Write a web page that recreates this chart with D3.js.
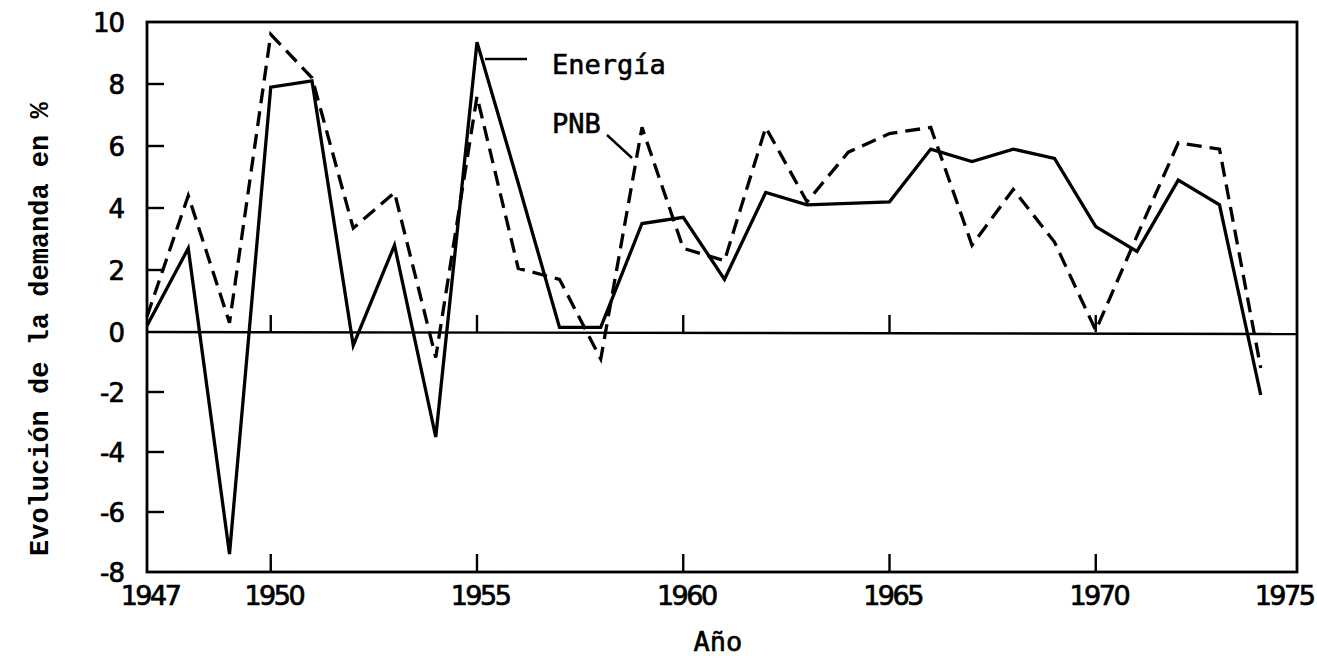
<!DOCTYPE html>
<html><head><meta charset="utf-8">
<script src="https://cdn.jsdelivr.net/npm/d3@7"></script>
<style>body{margin:0;background:#fff}</style>
</head><body>
<svg id="c" width="1317" height="659"></svg>
<script>
const years = [1947,1948,1949,1950,1951,1952,1953,1954,1955,1956,1957,1958,1959,1960,
               1961,1962,1963,1964,1965,1966,1967,1968,1969,1970,1971,1972,1973,1974];
const energia = [0.2, 2.7, -7.4, 7.9, 8.1, -0.45, 2.8, -3.5, 9.35, 4.8, 0.15, 0.15, 3.5, 3.7,
                 1.7, 4.5, 4.1, 4.15, 4.2, 5.9, 5.5, 5.9, 5.6, 3.4, 2.6, 4.9, 4.1, -2.1];
const pnb = [0.5, 4.4, 0.3, 9.6, 8.2, 3.35, 4.5, -0.85, 7.6, 2.05, 1.7, -0.9, 6.6, 2.7,
             2.3, 6.6, 4.2, 5.8, 6.4, 6.6, 2.8, 4.6, 2.9, 0.05, 3.1, 6.1, 5.9, -1.2];
const yTicks = [10, 8, 6, 4, 2, 0, -2, -4, -6, -8];
const xTicks = [1947, 1950, 1955, 1960, 1965, 1970, 1975];
const seriesNames = ["Energía", "PNB"];
const yTitle = "Evolución de la demanda en %";
const xTitle = "Año";

(function () {
const svg = d3.select("#c");
const x = d3.scaleLinear().domain([1947, 1975]).range([147, 1302]);
const y = d3.scaleLinear().domain([-8, 0, 10]).range([572, 332, 22]);
const fL = x(1947), fR = 1297, fT = y(10), fB = y(-8);

// frame
svg.append("rect").attr("x", fL).attr("y", fT).attr("width", fR - fL).attr("height", fB - fT)
  .attr("fill", "none").attr("stroke", "#000").attr("stroke-width", 2.8);

// zero line
svg.append("line").attr("x1", fL).attr("x2", fR).attr("y1", y(0)).attr("y2", y(0) + 2)
  .attr("stroke", "#000").attr("stroke-width", 2.4);

// y ticks (inward)
svg.append("g").selectAll("line").data(yTicks.filter(d => d !== 0 && d !== 10 && d !== -8)).join("line")
  .attr("x1", fL).attr("x2", fL + 17).attr("y1", d => y(d)).attr("y2", d => y(d))
  .attr("stroke", "#000").attr("stroke-width", 2.4);

// x ticks on zero line and bottom
const inner = xTicks.filter(d => d !== 1947 && d !== 1975);
svg.append("g").selectAll("line").data(inner).join("line")
  .attr("x1", d => x(d)).attr("x2", d => x(d)).attr("y1", y(0)).attr("y2", y(0) - 17)
  .attr("stroke", "#000").attr("stroke-width", 2.4);
svg.append("g").selectAll("line").data(inner).join("line")
  .attr("x1", d => x(d)).attr("x2", d => x(d)).attr("y1", fB).attr("y2", fB - 18)
  .attr("stroke", "#000").attr("stroke-width", 2.4);

// y tick labels
svg.append("g").selectAll("text").data(yTicks).join("text")
  .attr("x", 124).attr("y", d => y(d) + 10)
  .attr("text-anchor", "end")
  .attr("font-family", "DejaVu Sans").attr("font-size", 26)
  .attr("stroke", "#000").attr("stroke-width", 0.7)
  .attr("letter-spacing", -1)
  .text(d => d);

// x tick labels
svg.append("g").selectAll("text").data(xTicks).join("text")
  .attr("x", d => Math.min(x(d) + 3, 1284)).attr("y", 605)
  .attr("text-anchor", "middle")
  .attr("font-family", "DejaVu Sans").attr("font-size", 27)
  .attr("stroke", "#000").attr("stroke-width", 0.7)
  .attr("letter-spacing", -2.5)
  .text(d => d);

// lines
const line = d3.line().x((d, i) => x(years[i])).y(d => y(d));
svg.append("path").datum(pnb).attr("d", line).attr("fill", "none")
  .attr("stroke", "#000").attr("stroke-width", 3.3).attr("stroke-dasharray", "15,8")
  .attr("stroke-linejoin", "miter");
svg.append("path").datum(energia).attr("d", line).attr("fill", "none")
  .attr("stroke", "#000").attr("stroke-width", 3.3).attr("stroke-linejoin", "miter");

// series labels
const mono = "DejaVu Sans Mono";
svg.append("text").attr("x", 552).attr("y", 74).attr("font-family", mono).attr("font-size", 27)
  .attr("stroke", "#000").attr("stroke-width", 0.6).text(seriesNames[0]);
svg.append("line").attr("x1", 485).attr("x2", 527).attr("y1", 59).attr("y2", 59).attr("stroke", "#000").attr("stroke-width", 2.4);
svg.append("text").attr("x", 552).attr("y", 133).attr("font-family", mono).attr("font-size", 27)
  .attr("stroke", "#000").attr("stroke-width", 0.6).text(seriesNames[1]);
svg.append("line").attr("x1", 607).attr("x2", 632).attr("y1", 135).attr("y2", 158).attr("stroke", "#000").attr("stroke-width", 2.4);

// axis titles
svg.append("text").attr("x", 718).attr("y", 651).attr("text-anchor", "middle")
  .attr("font-family", mono).attr("font-size", 27)
  .attr("stroke", "#000").attr("stroke-width", 0.6).text(xTitle);
svg.append("text").attr("transform", "translate(48,556) rotate(-90)")
  .attr("font-family", "Liberation Mono").attr("font-size", 27).attr("font-weight", "bold").text(yTitle);
})();
</script>
</body></html>
